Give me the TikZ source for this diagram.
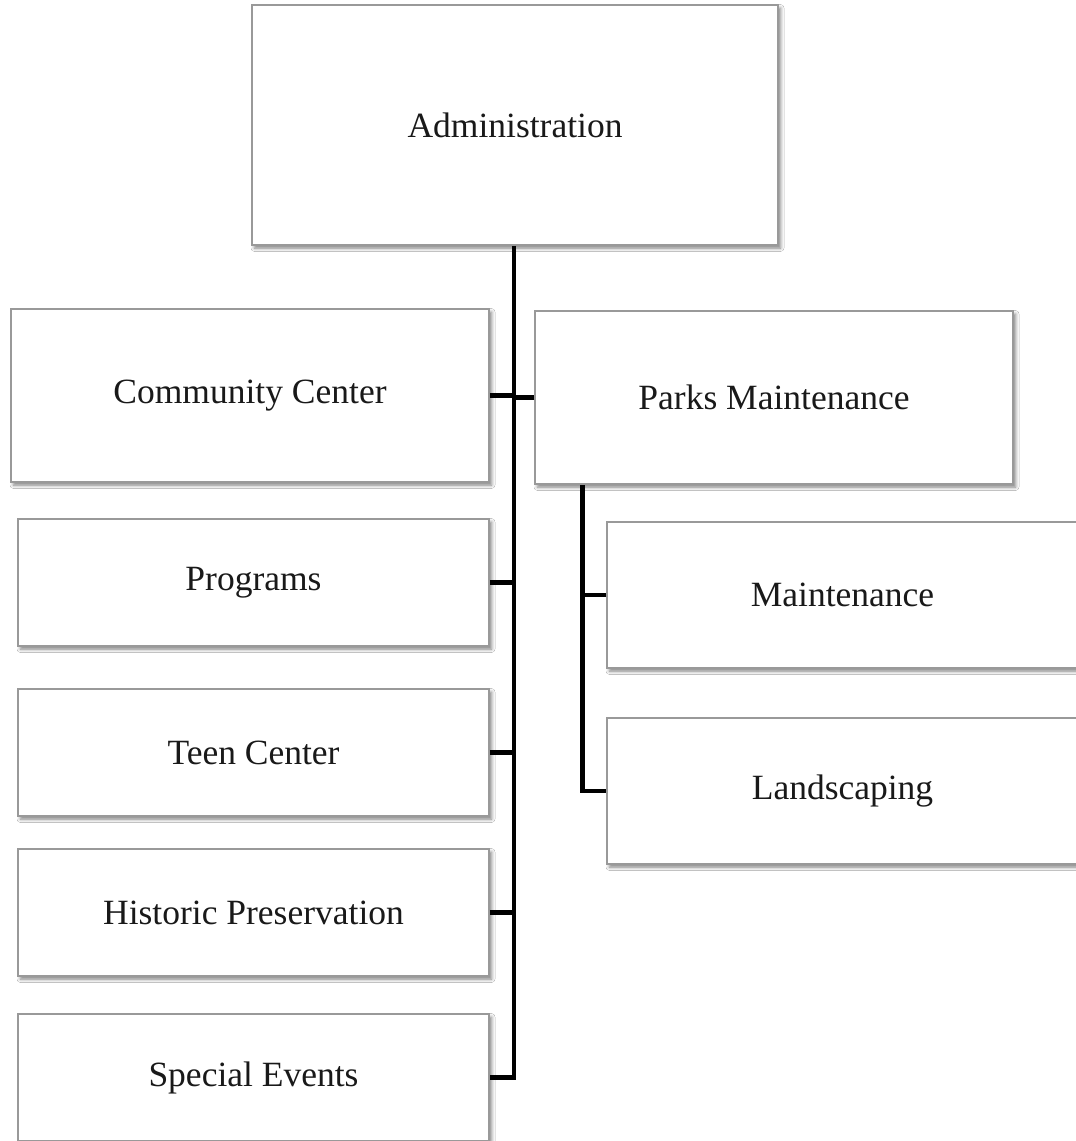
\documentclass[tikz,border=0pt]{standalone}
\usepackage{fontspec}
\setmainfont{Liberation Serif}
\usetikzlibrary{shadows.blur}
\definecolor{boxline}{HTML}{999999}
\tikzset{
  orgbox/.style={draw=boxline, line width=1.5pt, fill=white, inner sep=0pt,
    font=\fontsize{35.5}{40}\selectfont, text=black!90,
    blur shadow={shadow xshift=2.5pt, shadow yshift=-3pt, shadow blur radius=3.5pt, shadow opacity=50}},
  link/.style={line width=4.8pt, black, line join=miter}
}
\begin{document}
\begin{tikzpicture}[x=1pt,y=-1pt]
\useasboundingbox (0,0) rectangle (1076,1141);
\fill[white] (0,0) rectangle (1076,1141);
% nodes
\node[orgbox, minimum width=526pt, minimum height=240pt] (adm) at (515,125) {Administration};
\node[orgbox, minimum width=478pt, minimum height=173pt] (cc) at (250,395.5) {Community Center};
\node[orgbox, minimum width=478pt, minimum height=173pt] (pm) at (774,397.5) {Parks Maintenance};
\node[orgbox, minimum width=471pt, minimum height=127pt] (prog) at (253.5,582.5) {Programs};
\node[orgbox, minimum width=471pt, minimum height=127pt] (teen) at (253.5,752.5) {Teen Center};
\node[orgbox, minimum width=471pt, minimum height=127pt] (hist) at (253.5,912.5) {Historic Preservation};
\node[orgbox, minimum width=471pt, minimum height=127pt] (spec) at (253.5,1077.5) {Special Events};
\node[orgbox, minimum width=471pt, minimum height=146pt] (maint) at (842.5,595) {Maintenance};
\node[orgbox, minimum width=471pt, minimum height=146pt] (land) at (842.5,791) {Landscaping};
% connectors
\coordinate (trunk) at ([xshift=-1pt]adm.south);
\coordinate (sub) at ([xshift=48pt]pm.south west);
\draw[link] (trunk) -- (trunk |- spec.east) -- (spec.east);
\draw[link] (cc.east) -- (trunk |- cc.east);
\draw[link] (pm.west) -- (trunk |- pm.west);
\draw[link] (prog.east) -- (trunk |- prog.east);
\draw[link] (teen.east) -- (trunk |- teen.east);
\draw[link] (hist.east) -- (trunk |- hist.east);
\draw[link] (sub) -- (sub |- land.west) -- (land.west);
\draw[link] (maint.west) -- (sub |- maint.west);
\end{tikzpicture}
\end{document}
